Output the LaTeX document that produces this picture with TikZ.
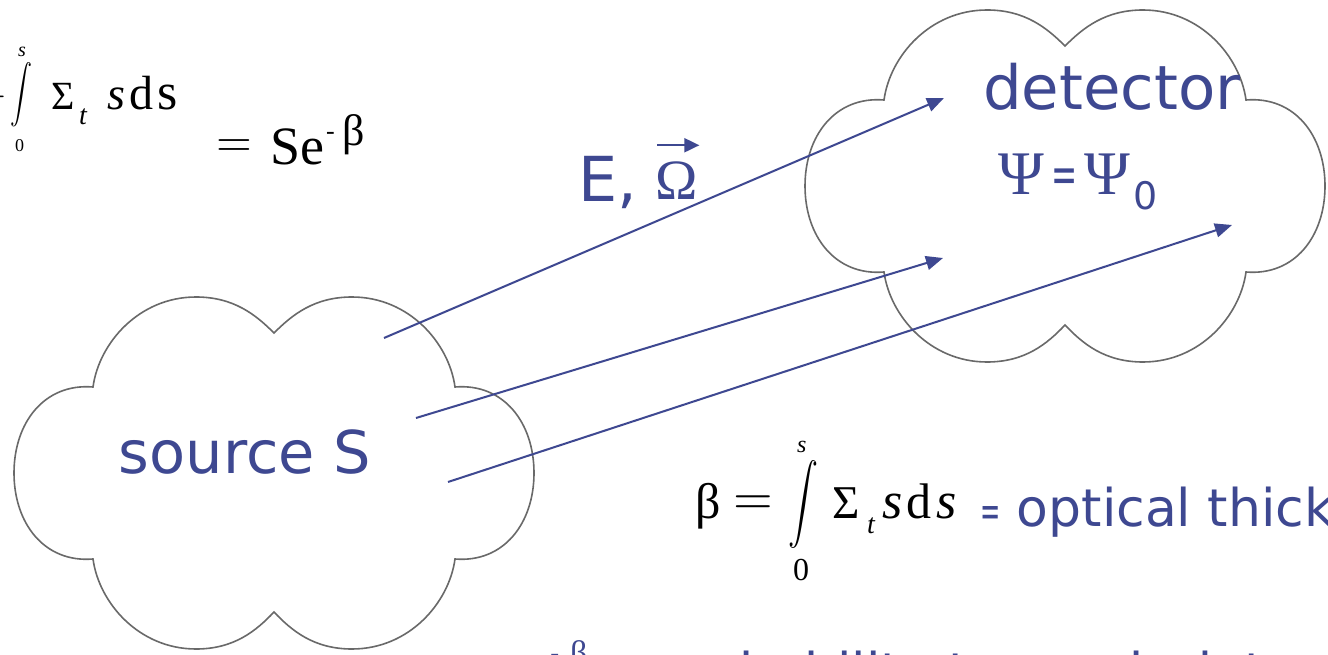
\documentclass[tikz,border=0pt]{standalone}
\usepackage[no-math]{fontspec}
\setmainfont{Liberation Serif}
\newfontfamily\cfont{DejaVu Sans}
\usepackage{graphicx}
\usetikzlibrary{arrows.meta}
\definecolor{ink}{RGB}{62,72,145}
\definecolor{cloudgray}{RGB}{105,105,105}
\newcommand\fs[1]{\fontsize{#1}{#1}\selectfont}
\newcommand\cloudpath[2]{%
 \draw[cloudline,shift={(#1,#2)}] (-181,-86) .. controls (-175,-130) and (-135,-176) .. (-78,-176)
  .. controls (-40,-176) and (-18,-158) .. (0,-140)
  .. controls (18,-158) and (40,-176) .. (78,-176)
  .. controls (135,-176) and (175,-130) .. (181,-86)
  .. controls (230,-90) and (260,-50) .. (260,0)
  .. controls (260,50) and (230,90) .. (181,86)
  .. controls (175,130) and (135,176) .. (78,176)
  .. controls (40,176) and (18,158) .. (0,139)
  .. controls (-18,158) and (-40,176) .. (-78,176)
  .. controls (-135,176) and (-175,130) .. (-181,86)
  .. controls (-230,90) and (-260,50) .. (-260,0)
  .. controls (-260,-50) and (-230,-90) .. (-181,-86) -- cycle;}
\begin{document}
\begin{tikzpicture}[x=1pt,y=-1pt,
  txt/.style={inner sep=0pt,outer sep=0pt,anchor=base west},
  inktxt/.style={txt,text=ink},
  cloudline/.style={draw=cloudgray,line width=1.6pt},
  ray/.style={draw=ink,line width=2pt,-{Triangle[length=17pt,width=14pt]}},
  vec/.style={draw=ink,line width=2pt,-{Triangle[length=15pt,width=14pt]}}]
\fill[white] (0,0) rectangle (1328,655);
\useasboundingbox (0,0) rectangle (1328,655);

\cloudpath{274}{473}
\cloudpath{1065}{186}

% clouds' labels
\node[inktxt,anchor=base] (src) at (245,473) {\cfont\fs{59}source S};
\node[inktxt] (det) at (983,110) {\cfont\fs{61}detector};
\node[inktxt] (psi1) at (998,195) {\fs{62}Ψ};
\node[inktxt] (psieq) at (1051,193) {\cfont\scalebox{0.6}[1]{\fs{52}=}};
\node[inktxt] (psi2) at (1084,195) {\fs{62}Ψ};
\node[inktxt] (psi0) at (1133,210) {\cfont\fs{38}0};

% E, Omega
\node[inktxt] (E) at (578,202) {\cfont\fs{62}E,};
\node[inktxt] (om) at (655,200) {\fs{57}Ω};
\draw[vec] ([xshift=2pt,yshift=17pt]om.north west) -- ([xshift=2pt,yshift=17pt]om.north east);

% rays
\coordinate (r1s) at (384,338); \coordinate (r1e) at (944,98);
\coordinate (r2s) at (416,418); \coordinate (r2e) at (943,258);
\coordinate (r3s) at (448,482); \coordinate (r3e) at (1232,225);
\draw[ray] (r1s) -- (r1e);
\draw[ray] (r2s) -- (r2e);
\draw[ray] (r3s) -- (r3e);

% top formula
\node[anchor=east,inner sep=0pt] (tminus) at (8,97) {\scalebox{3.85}{$-$}};
\node[inner sep=0pt] (tint) at (21,95) {\scalebox{2.2}[2.9]{$\displaystyle\int$}};
\node[txt] (tup) at (18,57) {\fs{20}\itshape s};
\node[txt] (tlow) at (15,152) {\fs{18}0};
\node[txt] (tsig) at (51,110) {\fs{40}Σ};
\node[txt] (tsub) at (79,125) {\fs{28}\itshape t};
\node[txt] (ts1) at (107,110) {\fs{46}\itshape s};
\node[txt] (td) at (129,110) {\fs{48}d};
\node[txt] (ts2) at (157,110) {\fs{52}s};
\node[inner sep=0pt] (teq) at (234,148) {\scalebox{4.6}{$=$}};
\node[txt] (tSe) at (270,165) {\fs{54}Se};
\node[txt] (thy) at (326,140) {\fs{26}-};
\node[txt] (tbeta) at (342,146) {\fs{44}β};

% beta formula
\node[txt] (bb) at (695,518) {\fs{50}β};
\node[inner sep=0pt] (beq) at (753,505) {\scalebox{5.1}{$=$}};
\node[inner sep=0pt] (bint) at (803,504) {\scalebox{3.0}[3.96]{$\displaystyle\int$}};
\node[txt] (bup) at (797,452) {\fs{24}\itshape s};
\node[txt] (blow) at (793,580) {\fs{32}0};
\node[txt] (bsig) at (832,518) {\fs{47}Σ};
\node[txt] (bsub) at (867,533) {\fs{28}\itshape t};
\node[txt] (bs1) at (882,518) {\fs{52}\itshape s};
\node[txt] (bd) at (906,518) {\fs{50}d};
\node[txt] (bs2) at (936,518) {\fs{52}\itshape s};
\node[inktxt] (opt) at (980,526) {\cfont\scalebox{0.55}[1]{\fs{44}=}\fs{52} optical thickness};

% bottom line
\node[inktxt] (be) at (527,689) {\cfont\fs{52}e};
\node[inktxt] (bhy) at (550,662) {\cfont\fs{26}-};
\node[inktxt] (bbeta) at (570,664) {\fs{34}β};
\node[inktxt] (bprob) at (594,690) {\cfont\fs{52}= probability to reach detector};
\end{tikzpicture}
\end{document}
